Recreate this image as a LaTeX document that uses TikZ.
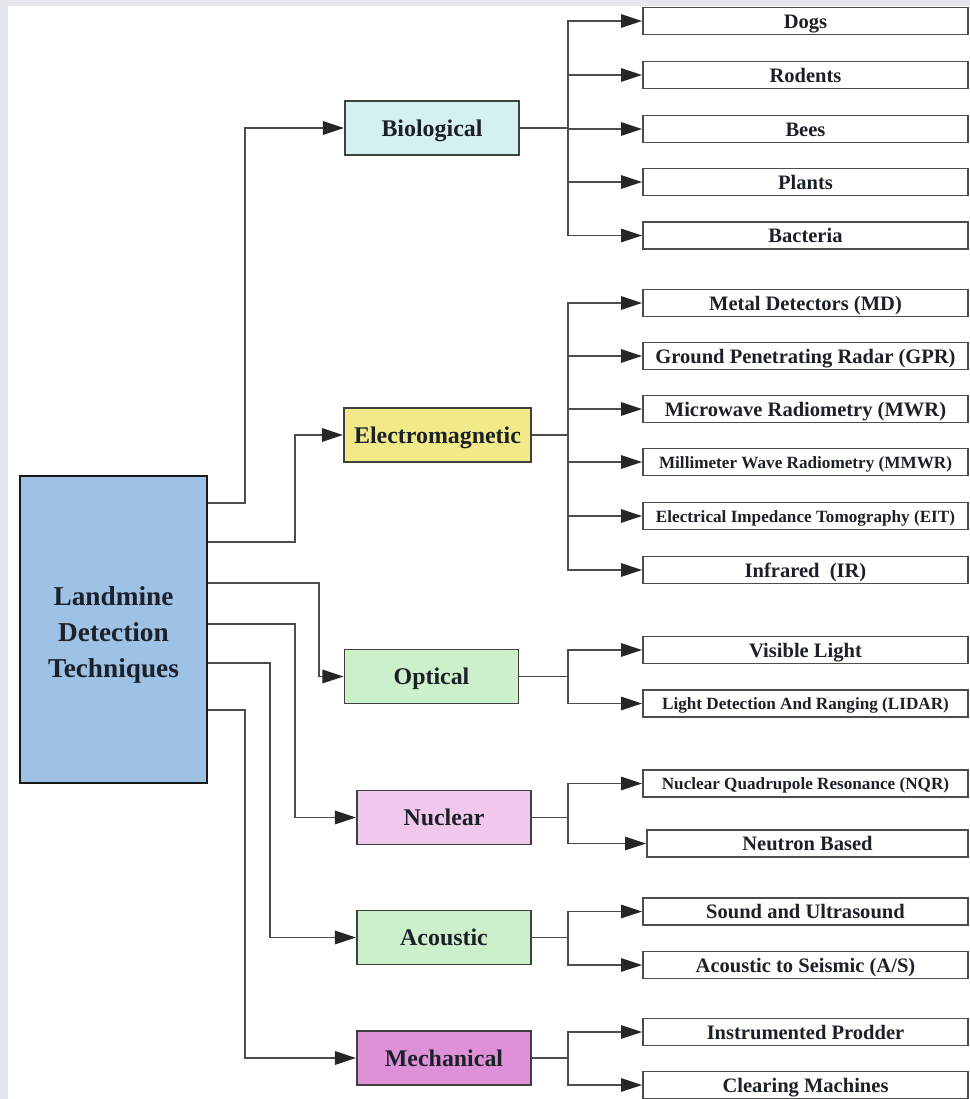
\documentclass[tikz,border=0pt]{standalone}
\usepackage{fontspec}
\setmainfont{Liberation Serif}
\usepackage{xcolor}
\usetikzlibrary{arrows.meta}

\definecolor{bggray}{HTML}{E4E8ED}
\definecolor{textdark}{HTML}{1C2129}
\definecolor{mainblue}{HTML}{9EC1E6}
\definecolor{biocyan}{HTML}{D5F0F0}
\definecolor{emyellow}{HTML}{F2EA88}
\definecolor{optgreen}{HTML}{CCF1CA}
\definecolor{nucpink}{HTML}{F0C8EE}
\definecolor{mechpink}{HTML}{DE91D8}

\begin{document}
\begin{tikzpicture}[x=0.025cm,y=-0.025cm,
  mainbox/.style={draw=black!90, line width=2pt, fill=mainblue, text=textdark,
    minimum width=4.675cm, minimum height=7.675cm, align=center,
    font=\fontsize{19.4}{25.6}\selectfont\bfseries},
  catbox/.style={draw=black!75, line width=1.3pt, text=textdark,
    minimum width=4.35cm, minimum height=1.35cm, inner sep=0pt,
    text height=12pt, text depth=0.5pt,
    font=\fontsize{17}{20}\selectfont\bfseries},
  leafbox/.style={draw=black!70, line width=1.2pt, fill=white, text=textdark,
    minimum width=8.125cm, minimum height=0.675cm, inner sep=0pt,
    text height=10.5pt, text depth=0pt,
    font=\fontsize{14.6}{16}\selectfont\bfseries},
  smallleaf/.style={leafbox, text height=8.8pt, text depth=0pt,
    font=\fontsize{12.2}{14}\selectfont\bfseries},
  link/.style={draw=black!70, line width=1.3pt},
  arr/.style={link, -{Triangle[length=15pt,width=9.5pt,color=black!85]}},
]
\useasboundingbox (0,0) rectangle (970,1099);
\fill[bggray] (0,0) rectangle (970,1099);
\fill[white] (8,6) rectangle (970,1099);

% root
\node[mainbox] (main) at (113.5,629.5)
  {\raisebox{-8.4pt}[0pt][0pt]{\begin{tabular}{@{}c@{}}Landmine\\Detection\\Techniques\end{tabular}}};

% categories
\node[catbox, fill=biocyan] (bio) at (432,128) {Biological};
\node[catbox, fill=emyellow, minimum width=4.675cm] (em) at (437.5,435) {Electromagnetic};
\node[catbox, fill=optgreen] (opt) at (431.5,676.5) {Optical};
\node[catbox, fill=nucpink] (nuc) at (444,817.5) {Nuclear};
\node[catbox, fill=optgreen] (aco) at (444,937.5) {Acoustic};
\node[catbox, fill=mechpink] (mech) at (444,1058) {Mechanical};

% techniques
\node[leafbox] (dogs) at (805.5,21) {Dogs};
\node[leafbox] (rodents) at (805.5,75) {Rodents};
\node[leafbox] (bees) at (805.5,129) {Bees};
\node[leafbox] (plants) at (805.5,182) {Plants};
\node[leafbox] (bacteria) at (805.5,235.5) {Bacteria};

\node[leafbox] (md) at (805.5,303) {Metal Detectors (MD)};
\node[leafbox] (gpr) at (805.5,356) {Ground Penetrating Radar (GPR)};
\node[leafbox] (mwr) at (805.5,409) {Microwave Radiometry (MWR)};
\node[smallleaf] (mmwr) at (805.5,462) {Millimeter Wave Radiometry (MMWR)};
\node[smallleaf] (eit) at (805.5,516) {Electrical Impedance Tomography (EIT)};
\node[leafbox] (ir) at (805.5,570) {Infrared\ \ (IR)};

\node[leafbox] (visible) at (805.5,650) {Visible Light};
\node[smallleaf] (lidar) at (805.5,703.5) {Light Detection And Ranging (LIDAR)};

\node[smallleaf] (nqr) at (805.5,783.5) {Nuclear Quadrupole Resonance (NQR)};
\node[leafbox, minimum width=8.025cm] (neutron) at (807.5,843.5) {Neutron Based};

\node[leafbox] (sound) at (805.5,911.5) {Sound and Ultrasound};
\node[leafbox] (seismic) at (805.5,965) {Acoustic to Seismic (A/S)};

\node[leafbox] (prodder) at (805.5,1032) {Instrumented Prodder};
\node[leafbox] (clearing) at (805.5,1085) {Clearing Machines};

% root to categories
\draw[arr] (main.east |- 0,503) -- (245,503) |- (bio);
\draw[arr] (main.east |- 0,542) -- (295,542) |- (em);
\draw[arr] (main.east |- 0,583) -- (319,583) |- (opt);
\draw[arr] (main.east |- 0,624) -- (295,624) |- (nuc);
\draw[arr] (main.east |- 0,663) -- (270,663) |- (aco);
\draw[arr] (main.east |- 0,710) -- (245,710) |- (mech);

% branch points
\coordinate (bioj) at (568,128);
\coordinate (emj) at (568,435);
\coordinate (optj) at (568,676.5);
\coordinate (nucj) at (568,817.5);
\coordinate (acoj) at (568,937.5);
\coordinate (mechj) at (568,1058);

\draw[link] (bio) -- (bioj);
\draw[link] (em) -- (emj);
\draw[link] (opt) -- (optj);
\draw[link] (nuc) -- (nucj);
\draw[link] (aco) -- (acoj);
\draw[link] (mech) -- (mechj);

\foreach \leaf in {dogs,rodents,bees,plants,bacteria}
  \draw[arr] (bioj) |- (\leaf);
\foreach \leaf in {md,gpr,mwr,mmwr,eit,ir}
  \draw[arr] (emj) |- (\leaf);
\foreach \leaf in {visible,lidar}
  \draw[arr] (optj) |- (\leaf);
\foreach \leaf in {nqr,neutron}
  \draw[arr] (nucj) |- (\leaf);
\foreach \leaf in {sound,seismic}
  \draw[arr] (acoj) |- (\leaf);
\foreach \leaf in {prodder,clearing}
  \draw[arr] (mechj) |- (\leaf);
\end{tikzpicture}
\end{document}
